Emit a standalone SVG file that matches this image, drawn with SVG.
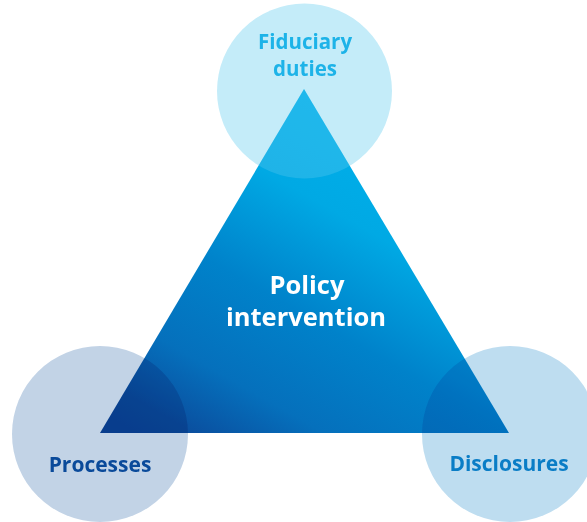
<svg xmlns="http://www.w3.org/2000/svg" width="587" height="522" viewBox="0 0 587 522">
<style>
.lbl{font-family:"Open Sans","Liberation Sans",sans-serif;font-weight:bold;text-anchor:middle}
.mul{mix-blend-mode:multiply}
</style>
<defs>
<linearGradient id="tri" gradientUnits="userSpaceOnUse" x1="350" y1="90" x2="150" y2="440">
<stop offset="0" stop-color="#00B1EC"/>
<stop offset="0.28" stop-color="#00A9E4"/>
<stop offset="0.54" stop-color="#0082CA"/>
<stop offset="0.77" stop-color="#0570BC"/>
<stop offset="0.93" stop-color="#0A50A0"/>
<stop offset="1" stop-color="#0A4A9C"/>
</linearGradient>
<clipPath id="triClip"><polygon points="304,89 100,433 509,433"/></clipPath>
</defs>
<g id="fiduciary-duties">
<circle cx="304.5" cy="91" r="87.5" fill="#C4ECF9"/>
</g>
<g id="policy-intervention">
<polygon points="304,89 100,433 509,433" fill="url(#tri)"/>
<circle cx="304.5" cy="91" r="87.5" fill="#FFFFFF" fill-opacity="0.12" clip-path="url(#triClip)"/>
<text class="lbl" x="307" y="294" font-size="25.5" fill="#FFFFFF">Policy</text>
<text class="lbl" x="306" y="326" font-size="25.5" fill="#FFFFFF">intervention</text>
</g>
<g id="processes">
<circle class="mul" cx="100" cy="434" r="88" fill="#C2D3E6"/>
<text class="lbl" x="100" y="472" font-size="21" fill="#0A4A9A">Processes</text>
</g>
<g id="disclosures">
<circle class="mul" cx="510" cy="434" r="88" fill="#BEDDF0"/>
<text class="lbl" x="509" y="471" font-size="21" fill="#0A7DC6">Disclosures</text>
</g>
<g id="fiduciary-label">
<text class="lbl" x="305" y="49" font-size="20.5" fill="#1DB3E8">Fiduciary</text>
<text class="lbl" x="305" y="76" font-size="20.5" fill="#1DB3E8">duties</text>
</g>
<g id="connectors"/>
</svg>
